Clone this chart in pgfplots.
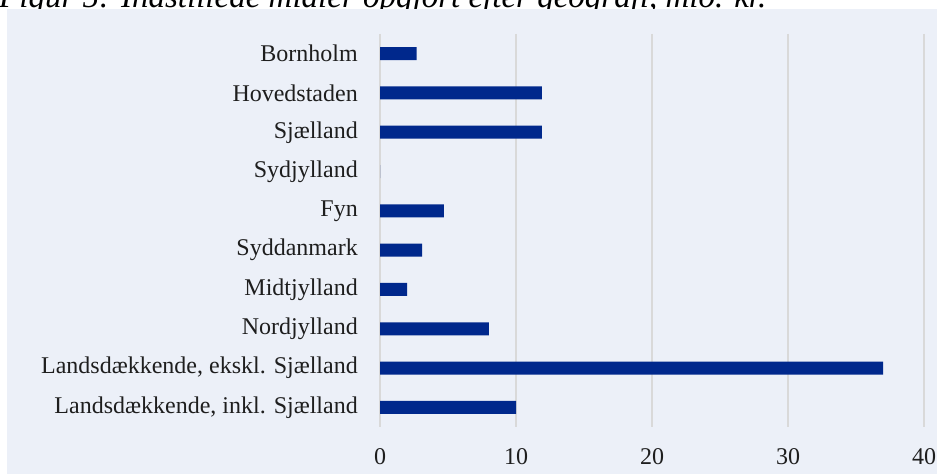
\documentclass[border=0pt]{standalone}
\usepackage{pgfplots}
\pgfplotsset{compat=1.18}
\usepackage{fontspec}
\setmainfont{Liberation Serif}
\definecolor{bg}{RGB}{236,240,248}
\definecolor{barc}{RGB}{0,40,140}
\definecolor{gridc}{RGB}{217,217,217}
\definecolor{txt}{RGB}{30,30,30}
\begin{document}
\begin{tikzpicture}
\useasboundingbox (0pt,0pt) rectangle (937pt,474pt);
\clip (0pt,0pt) rectangle (937pt,474pt);
\fill[white] (0pt,0pt) rectangle (937pt,474pt);
\node[anchor=base west, inner sep=0pt, font=\fontsize{33}{38}\selectfont\itshape] at (-1pt,466pt) {Figur 5: Indstillede midler opgjort efter geografi, mio. kr.};
\fill[bg] (7pt,0pt) rectangle (937pt,465pt);
\begin{axis}[at={(380pt,47pt)}, anchor=south west, scale only axis,
  width=544pt, height=393pt,
  xbar, bar width=13pt,
  xmin=0, xmax=40, ymin=-0.5, ymax=9.5, y dir=reverse,
  ytick={0,1,2,3,4,5,6,7,8,9},
  yticklabels={Bornholm,Hovedstaden,Sjælland,Sydjylland,Fyn,Syddanmark,Midtjylland,Nordjylland,{Landsdækkende, ekskl. Sjælland},{Landsdækkende, inkl. Sjælland}},
  xtick={0,10,20,30,40},
  xmajorgrids, major grid style={gridc, line width=1.5pt},
  axis line style={draw=none},
  major tick length=0pt, tick style={draw=none},
  tick label style={font=\fontsize{24}{28}\selectfont},
  yticklabel style={inner sep=0pt, xshift=-22pt, text=txt},
  xticklabel style={inner sep=0pt, yshift=-21pt, text=txt},
  /pgf/number format/assume math mode=true,
  clip=false]
\addplot[fill=barc, draw=none] coordinates {(2.7,0) (11.9,1) (11.9,2) (0,3) (4.7,4) (3.1,5) (2.0,6) (8.0,7) (37.0,8) (10.0,9)};
\end{axis}
\end{tikzpicture}
\end{document}
